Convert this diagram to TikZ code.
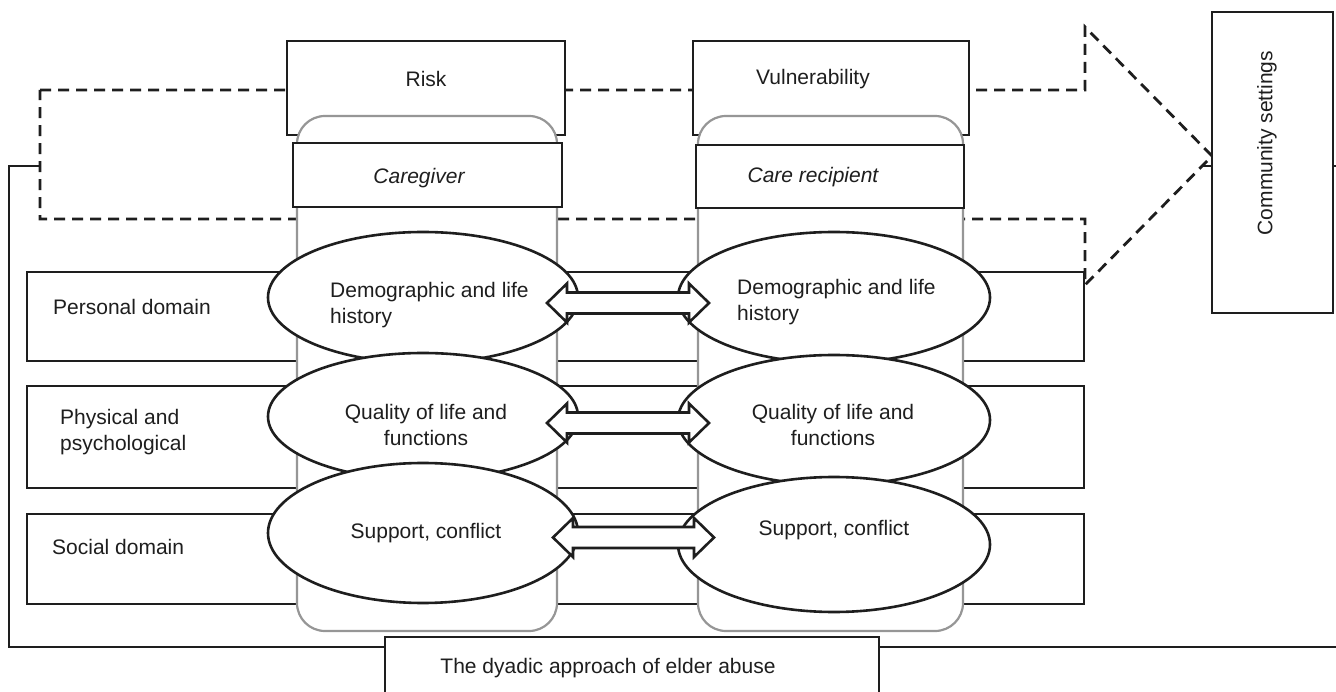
\documentclass[tikz,border=0pt]{standalone}
\usepackage{fontspec}
\setmainfont{Liberation Sans}
\usetikzlibrary{shapes.geometric}
\definecolor{ink}{RGB}{30,30,30}
\definecolor{rimgray}{RGB}{150,150,150}
\tikzset{
  boxnode/.style={draw=ink, line width=2.8pt, fill=white, rectangle, inner sep=0pt},
  ovalnode/.style={draw=ink, line width=2.6pt, fill=white, ellipse, inner sep=0pt},
  columnnode/.style={draw=rimgray, line width=2.2pt, fill=white, rectangle, rounded corners=28pt, inner sep=0pt},
  txt/.style={font=\fontsize{21pt}{26pt}\selectfont, text=ink, inner sep=0pt},
  dashline/.style={draw=ink, line width=2.8pt, dash pattern=on 11pt off 7pt},
  framed/.style={draw=ink, line width=2.8pt},
  harrow/.style={draw=ink, line width=2.6pt, fill=white, line join=miter},
}
\newcommand\hollowarrow[3]{\draw[harrow] (#1) -- ++(20,-19.5) -- ++(0,9) -- ++(#3,0) -- ++(0,-9) -- (#2) -- ++(-20,19.5) -- ++(0,-9) -- ++(-#3,0) -- ++(0,9) -- cycle;}
\begin{document}
\begin{tikzpicture}[x=1pt,y=-1pt]
\clip (0,0) rectangle (1336,692);
\useasboundingbox (0,0) rectangle (1336,692);
% outer frame
\draw[framed] (9,166) rectangle (1360,647);
% dashed big arrow
\draw[dashline, fill=white] (40,90) -- (1085,90) -- (1085,27) -- (1212,156) -- (1085,285) -- (1085,219) -- (40,219) -- cycle;
% risk / vulnerability
\node[boxnode, minimum width=278pt, minimum height=94pt] (risk) at (426,88) {};
\node[txt] (risktxt) at (426,79) {Risk};
\node[boxnode, minimum width=276pt, minimum height=94pt] (vuln) at (831,88) {};
\node[txt] (vulntxt) at (813,79) {Vulnerability};
% domain boxes
\node[boxnode, minimum width=1057pt, minimum height=89pt] (personal) at (555.5,316.5) {};
\node[boxnode, minimum width=1057pt, minimum height=102pt] (physical) at (555.5,437) {};
\node[boxnode, minimum width=1057pt, minimum height=90pt] (social) at (555.5,559) {};
\node[txt, anchor=west] (personaltxt) at (53,307) {Personal domain};
\node[txt, anchor=west, align=left] (physicaltxt) at (60,432.5) {Physical and\\psychological};
\node[txt, anchor=west] (socialtxt) at (52,547) {Social domain};
% columns
\node[columnnode, minimum width=260pt, minimum height=515pt] (col1) at (427,373.5) {};
\node[columnnode, minimum width=265pt, minimum height=515pt] (col2) at (830.5,373.5) {};
% caregiver / care recipient
\node[boxnode, minimum width=269pt, minimum height=64pt] (cgbox) at (427.5,175) {};
\node[txt, font=\fontsize{21pt}{26pt}\selectfont\itshape] (cgtxt) at (419,178) {Caregiver};
\node[boxnode, minimum width=268pt, minimum height=63pt] (crbox) at (830,176.5) {};
\node[txt, font=\fontsize{21pt}{26pt}\selectfont\itshape] (crtxt) at (813,177) {Care recipient};
% ellipses
\node[ovalnode, minimum width=310pt, minimum height=131pt] (e1) at (423,297.5) {};
\node[ovalnode, minimum width=310pt, minimum height=127pt] (e2) at (423,416.5) {};
\node[ovalnode, minimum width=310pt, minimum height=140pt] (e3) at (423,533) {};
\node[ovalnode, minimum width=312pt, minimum height=131pt] (e4) at (834,297.5) {};
\node[ovalnode, minimum width=312pt, minimum height=130pt] (e5) at (834,420) {};
\node[ovalnode, minimum width=312pt, minimum height=135pt] (e6) at (834,544.5) {};
\node[txt, anchor=west, align=left] (e1txt) at (330,305) {Demographic and life\\history};
\node[txt, align=center] (e2txt) at (426,425) {Quality of life and\\functions};
\node[txt] (e3txt) at (426,533) {Support, conflict};
\node[txt, anchor=west, align=left] (e4txt) at (737,302.5) {Demographic and life\\history};
\node[txt, align=center] (e5txt) at (833,425) {Quality of life and\\functions};
\node[txt] (e6txt) at (834,530) {Support, conflict};
% hollow double arrows
\coordinate (a1l) at (547,303); \coordinate (a1r) at (709,303);
\coordinate (a2l) at (547,423); \coordinate (a2r) at (709,423);
\coordinate (a3l) at (553,537.5); \coordinate (a3r) at (714,537.5);
\hollowarrow{a1l}{a1r}{122}
\hollowarrow{a2l}{a2r}{122}
\hollowarrow{a3l}{a3r}{121}
% community settings
\node[boxnode, minimum width=121pt, minimum height=301pt] (community) at (1272.5,162.5) {};
\node[txt, rotate=90] (communitytxt) at (1267,143) {Community settings};
% bottom title box
\node[boxnode, minimum width=494pt, minimum height=90pt] (title) at (632,682) {};
\node[txt] (titletxt) at (608,668) {The dyadic approach of elder abuse};
\end{tikzpicture}
\end{document}
